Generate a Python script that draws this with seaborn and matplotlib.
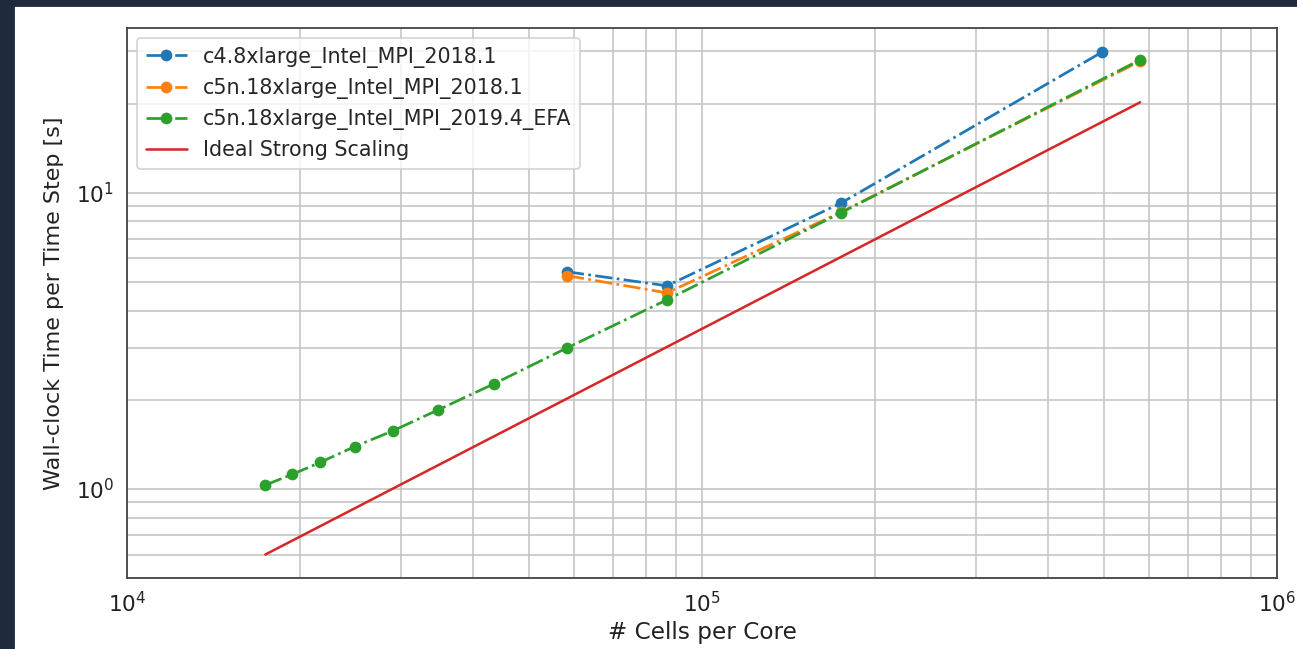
import matplotlib
matplotlib.use("Agg")
import matplotlib.pyplot as plt
from matplotlib.patches import Rectangle
import seaborn as sns

# ---- data ----
c4_x = [58200, 86900, 174500, 497000]
c4_y = [5.41, 4.85, 9.23, 29.9]

c5n_x = [58200, 86900, 174500, 578000]
c5n_y = [5.25, 4.59, 8.6, 27.8]

efa_x = [17400, 19400, 21700, 24900, 29000, 34800, 43400, 58200, 86900, 174500, 578000]
efa_y = [1.03, 1.12, 1.23, 1.39, 1.57, 1.85, 2.26, 2.99, 4.35, 8.56, 28.1]

ideal_x = [17400, 578000]
ideal_y = [0.60, 20.2]

labels = ["c4.8xlarge_Intel_MPI_2018.1",
          "c5n.18xlarge_Intel_MPI_2018.1",
          "c5n.18xlarge_Intel_MPI_2019.4_EFA",
          "Ideal Strong Scaling"]

sns.set_style("white")
plt.rcParams['font.family'] = ['DejaVu Sans']

fig = plt.figure(figsize=(1297 / 130, 649 / 130), dpi=130, facecolor="white")
ax = fig.add_axes([127 / 1297, 1 - 578 / 649, (1277 - 127) / 1297, (578 - 28) / 649])

common = dict(marker="o", linestyle="-.", linewidth=1.5, markersize=6.5,
              markeredgewidth=0, sort=False, ax=ax)
sns.lineplot(x=c4_x, y=c4_y, color="#1f77b4", label=labels[0], **common)
sns.lineplot(x=c5n_x, y=c5n_y, color="#ff7f0e", label=labels[1], **common)
sns.lineplot(x=efa_x, y=efa_y, color="#2ca02c", label=labels[2], **common)
sns.lineplot(x=ideal_x, y=ideal_y, color="#d62728", linestyle="-", linewidth=1.4,
             label=labels[3], sort=False, ax=ax)

ax.set_xscale("log")
ax.set_yscale("log")
ax.set_xlim(1e4, 1e6)
ax.set_ylim(0.5, 36)
ax.grid(True, which="both", color="#c4c4c4", linewidth=0.9)
ax.set_axisbelow(True)
for s in ax.spines.values():
    s.set_color("#444444")
    s.set_linewidth(1.0)
ax.tick_params(which="both", direction="out", color="#444444", labelsize=12,
               labelcolor="#222222")
ax.tick_params(which="major", length=3.5)
ax.tick_params(which="minor", length=2)
ax.set_xlabel("# Cells per Core", fontsize=12.8, color="#222222", labelpad=3)
ax.set_ylabel("Wall-clock Time per Time Step [s]", fontsize=12.3, color="#222222",
              labelpad=6.5)
ax.legend(loc="upper left", fontsize=11.4, framealpha=0.8, edgecolor="#cccccc")

# dark page border from the screenshot
fig.add_artist(Rectangle((0, 0), 14 / 1297, 1, transform=fig.transFigure,
                         color="#1f2a3c", zorder=10))
fig.add_artist(Rectangle((0, 1 - 6 / 649), 1, 6 / 649, transform=fig.transFigure,
                         color="#1f2a3c", zorder=10))

fig.savefig("out.png", dpi=130, facecolor="white")
